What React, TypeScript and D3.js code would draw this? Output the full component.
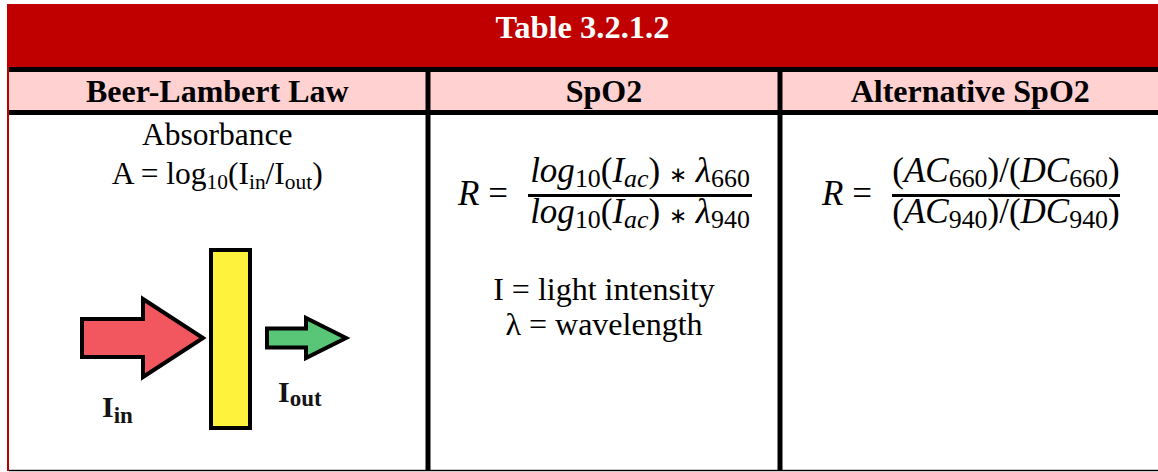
import React, { useEffect, useRef } from "react";
import * as d3 from "d3";

type Run = { t: string; it?: boolean; sub?: boolean; op?: boolean };

// --- Table content ---
const title = "Table 3.2.1.2";
const headers = ["Beer-Lambert Law", "SpO2", "Alternative SpO2"];
const absorbanceLabel = "Absorbance";
const absorbanceFormula: Run[] = [
  { t: "A = log" },
  { t: "10", sub: true },
  { t: "(I" },
  { t: "in", sub: true },
  { t: "/I" },
  { t: "out", sub: true },
  { t: ")" },
];
const spo2Num: Run[] = [
  { t: "log", it: true },
  { t: "10", sub: true },
  { t: "(" },
  { t: "I", it: true },
  { t: "ac", it: true, sub: true },
  { t: ") " },
  { t: "∗", op: true },
  { t: " " },
  { t: "λ", it: true },
  { t: "660", sub: true },
];
const spo2Den: Run[] = [
  { t: "log", it: true },
  { t: "10", sub: true },
  { t: "(" },
  { t: "I", it: true },
  { t: "ac", it: true, sub: true },
  { t: ") " },
  { t: "∗", op: true },
  { t: " " },
  { t: "λ", it: true },
  { t: "940", sub: true },
];
const altNum: Run[] = [
  { t: "(" },
  { t: "AC", it: true },
  { t: "660", sub: true },
  { t: ")/(" },
  { t: "DC", it: true },
  { t: "660", sub: true },
  { t: ")" },
];
const altDen: Run[] = [
  { t: "(" },
  { t: "AC", it: true },
  { t: "940", sub: true },
  { t: ")/(" },
  { t: "DC", it: true },
  { t: "940", sub: true },
  { t: ")" },
];
const legendLines = ["I = light intensity", "λ = wavelength"];
const inLabel = ["I", "in"];
const outLabel = ["I", "out"];

const SERIF = "'Liberation Serif', 'Times New Roman', serif";

const App = () => {
  const svgRef = useRef<SVGSVGElement>(null);

  useEffect(() => {
    const width = 1158;
    const height = 472;
    const svg = d3.select(svgRef.current);
    svg.selectAll("*").remove();
    svg.attr("width", width).attr("height", height);

    // row / column layout
    const left = 7;
    const top = 4;
    const titleBottom = 67;
    const headTop = 72;
    const headBottom = 110;
    const bodyTop = 115;
    const bottom = 471;
    const ruleW = 5;
    const cols = [9, 425.5, 777.5, width];
    const colCenter = (i: number) =>
      i === 0
        ? (cols[0] + cols[1]) / 2
        : (cols[i] + ruleW + cols[i + 1]) / 2;

    const txt = (x: number, y: number, size: number) =>
      svg.append("text")
        .attr("x", x).attr("y", y)
        .style("font-family", SERIF)
        .style("font-size", `${size}px`)
        .style("font-style", "normal")
        .style("font-weight", "normal")
        .style("white-space", "pre")
        .attr("fill", "#000");

    // --- Frame ---
    svg.append("rect").attr("x", left).attr("y", top)
      .attr("width", width - left).attr("height", titleBottom - top)
      .attr("fill", "#c00000");
    svg.append("rect").attr("x", left).attr("y", top)
      .attr("width", 2).attr("height", bottom - top)
      .attr("fill", "#c00000");
    svg.append("rect").attr("x", cols[0]).attr("y", titleBottom)
      .attr("width", width - cols[0]).attr("height", headTop - titleBottom)
      .attr("fill", "#000");
    svg.append("rect").attr("x", cols[0]).attr("y", headTop)
      .attr("width", width - cols[0]).attr("height", headBottom - headTop)
      .attr("fill", "#ffd1d1");
    svg.append("rect").attr("x", cols[0]).attr("y", headBottom)
      .attr("width", width - cols[0]).attr("height", bodyTop - headBottom)
      .attr("fill", "#000");
    svg.append("rect").attr("x", cols[0]).attr("y", bottom - 1.2)
      .attr("width", width - cols[0]).attr("height", 1.4)
      .attr("fill", "#000");
    [cols[1], cols[2]].forEach((cx) => {
      svg.append("rect").attr("x", cx).attr("y", titleBottom)
        .attr("width", ruleW).attr("height", bottom - titleBottom)
        .attr("fill", "#000");
    });

    // --- Title & headers ---
    txt((left + width) / 2, 38, 32.5)
      .attr("text-anchor", "middle")
      .style("font-weight", "bold")
      .attr("fill", "#fff")
      .text(title);

    headers.forEach((h, i) => {
      txt(colCenter(i), 102, 32)
        .attr("text-anchor", "middle")
        .style("font-weight", "bold")
        .text(h);
    });

    // write a list of runs with lowered subscripts
    const writeRuns = (
      text: d3.Selection<SVGTextElement, unknown, null, undefined>,
      runs: Run[],
      size: number,
      subScale: number,
      subDrop: number
    ) => {
      let shift = 0;
      runs.forEach((r) => {
        const target = r.sub ? subDrop : 0;
        const ts = text.append("tspan")
          .attr("dy", target - shift)
          .style("font-size", `${r.sub ? size * subScale : size}px`)
          .style("font-style", r.it ? "italic" : "normal")
          .text(r.t);
        if (r.op) ts.style("font-family", "'DejaVu Sans'").style("font-size", `${size * 0.62}px`);
        shift = target;
      });
    };

    // --- Column 1: Beer-Lambert ---
    const c1 = colCenter(0);
    txt(c1, 145, 31.5).attr("text-anchor", "middle").text(absorbanceLabel);
    const absText = txt(c1, 184, 31.5).attr("text-anchor", "middle");
    writeRuns(absText, absorbanceFormula, 31.5, 0.68, 5);

    // arrows + absorbing slab
    const arrow = (x0: number, x1: number, tip: number, cy: number, shaftH: number, headH: number) =>
      d3.line()([
        [x0, cy - shaftH / 2],
        [x1, cy - shaftH / 2],
        [x1, cy - headH / 2],
        [tip, cy],
        [x1, cy + headH / 2],
        [x1, cy + shaftH / 2],
        [x0, cy + shaftH / 2],
      ]) + "Z";

    svg.append("path")
      .attr("d", arrow(82, 143, 203, 338, 38, 78))
      .attr("fill", "#f2565e").attr("stroke", "#000")
      .attr("stroke-width", 4).attr("stroke-linejoin", "miter");
    svg.append("rect")
      .attr("x", 211).attr("y", 250).attr("width", 39).attr("height", 178)
      .attr("fill", "#fff23c").attr("stroke", "#000").attr("stroke-width", 4);
    svg.append("path")
      .attr("d", arrow(267, 306, 346, 338, 19, 40))
      .attr("fill", "#58c577").attr("stroke", "#000")
      .attr("stroke-width", 4).attr("stroke-linejoin", "miter");

    const label = (parts: string[], x: number, y: number, drop: number) => {
      const t = txt(x, y, 30).style("font-weight", "bold").attr("fill", "#141414");
      t.append("tspan").text(parts[0]);
      t.append("tspan").style("font-size", "23px").attr("dy", drop).text(parts[1]);
    };
    label(inLabel, 102, 417, 6);
    label(outLabel, 278, 402, 4);

    // --- Fractions ---
    const MATH = 35;
    const fraction = (rx: number, barX0: number, barX1: number, num: Run[], den: Run[]) => {
      const cx = (barX0 + barX1) / 2;
      const rText = txt(rx, 205, MATH);
      rText.append("tspan").style("font-style", "italic").text("R");
      rText.append("tspan").text(" =");
      svg.append("line")
        .attr("x1", barX0).attr("x2", barX1)
        .attr("y1", 195.5).attr("y2", 195.5)
        .attr("stroke", "#000").attr("stroke-width", 3);
      const n = txt(cx, 182, MATH).attr("text-anchor", "middle");
      writeRuns(n, num, MATH, 0.74, 5);
      const d = txt(cx, 223, MATH).attr("text-anchor", "middle");
      writeRuns(d, den, MATH, 0.74, 5);
    };
    fraction(458, 528, 752, spo2Num, spo2Den);
    fraction(822, 892, 1120, altNum, altDen);

    // --- Column 2 legend ---
    legendLines.forEach((l, i) => {
      txt(colCenter(1), 300 + i * 35, 32).attr("text-anchor", "middle").text(l);
    });
  }, []);

  return (
    <svg
      ref={svgRef}
      style={{ position: "absolute", left: 0, top: 0, background: "#fff" }}
    />
  );
};

export default App;
